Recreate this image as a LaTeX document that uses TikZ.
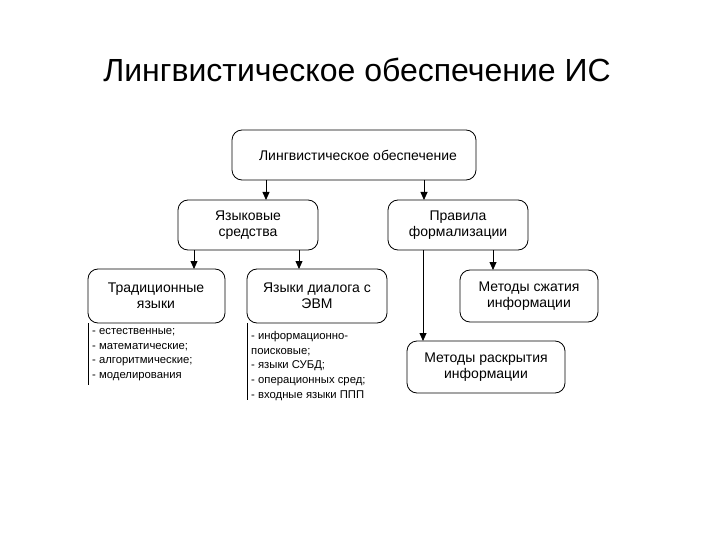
\documentclass[tikz,border=0pt]{standalone}
\usepackage{fontspec}
\setmainfont{Liberation Sans}
\usetikzlibrary{arrows.meta}
\begin{document}
\begin{tikzpicture}[x=1pt,y=-1pt,
  box/.style={draw,thick,rounded corners=10pt,align=center,font=\fontsize{14}{16}\selectfont},
  arr/.style={thick,-{Triangle[length=8pt,width=7pt]}},
  lst/.style={anchor=north west,align=left,font=\fontsize{11.3}{14.8}\selectfont,inner sep=0pt}]
\useasboundingbox (0,0) rectangle (720,540);
\node[font=\fontsize{32}{36}\selectfont] (title) at (357,70) {Лингвистическое обеспечение ИС};
\draw[box] (232,130) rectangle (476,180); \node[box,draw=none] (top) at (358,155) {Лингвистическое обеспечение};
\draw[box] (178,200) rectangle (318,250); \node[box,draw=none] (ys) at (248,225) {Языковые\\средства};
\draw[box] (388,200) rectangle (528,250); \node[box,draw=none] (pf) at (458,225) {Правила\\формализации};
\draw[box] (88,269) rectangle (225,323); \node[box,draw=none] (tr) at (156,296) {Традиционные\\языки};
\draw[box] (247,269) rectangle (387,323); \node[box,draw=none] (dl) at (317,296) {Языки диалога с\\ЭВМ};
\draw[box] (460,270) rectangle (598,322); \node[box,draw=none] (sz) at (529,296) {Методы сжатия\\информации};
\draw[box] (407,341) rectangle (565,393); \node[box,draw=none] (rk) at (486,367) {Методы раскрытия\\информации};
\coordinate (a1) at (266,180); \coordinate (b1) at (266,200);
\coordinate (a2) at (424,180); \coordinate (b2) at (424,200);
\coordinate (a3) at (194,250); \coordinate (b3) at (194,269);
\coordinate (a4) at (299,250); \coordinate (b4) at (299,269);
\coordinate (a5) at (493,250); \coordinate (b5) at (493,270);
\coordinate (a6) at (423,250); \coordinate (b6) at (423,341);
\foreach \i in {1,...,6} \draw[arr] (a\i) -- (b\i);
\coordinate (l1) at (88,323); \coordinate (l1e) at (88,385);
\coordinate (l2) at (247,323); \coordinate (l2e) at (247,400);
\draw[thick] (l1) -- (l1e); \draw[thick] (l2) -- (l2e);
\node[lst] (t1) at (92,328) {- естественные;\\- математические;\\- алгоритмические;\\- моделирования};
\node[lst] (t2) at (251,331) {- информационно-\\поисковые;\\- языки СУБД;\\- операционных сред;\\- входные языки ППП};
\end{tikzpicture}
\end{document}
